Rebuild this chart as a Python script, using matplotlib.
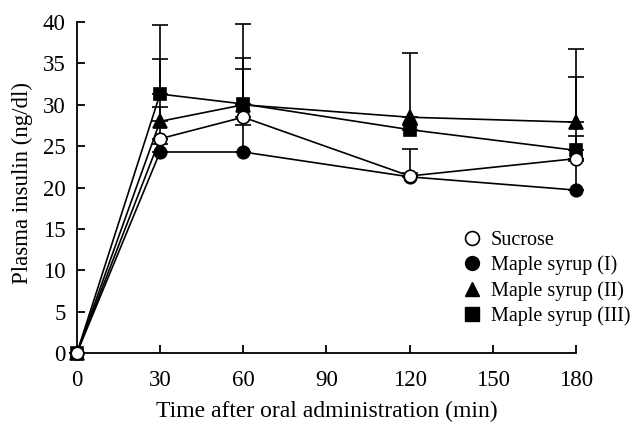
import matplotlib
matplotlib.use('Agg')
import matplotlib.pyplot as plt
from matplotlib.lines import Line2D

plt.rcParams['font.family'] = ['Liberation Serif', 'DejaVu Serif']

time = [0, 30, 60, 120, 180]

sucrose = [0, 25.9, 28.5, 21.4, 23.5]
sucrose_err = [0, 3.8, 5.8, 3.3, 9.8]
maple1 = [0, 24.3, 24.3, 21.3, 19.7]
maple1_err = [0, 1.0, 3.2, 0.5, 3.5]
maple2 = [0, 28.0, 30.0, 28.5, 27.9]
maple2_err = [0, 7.5, 9.8, 7.8, 8.8]
maple3 = [0, 31.3, 30.1, 27.0, 24.5]
maple3_err = [0, 8.3, 5.6, 0.5, 1.7]

labels = ['Sucrose', 'Maple syrup (I)', 'Maple syrup (II)', 'Maple syrup (III)']
xticks = [0, 30, 60, 90, 120, 150, 180]
yticks = [0, 5, 10, 15, 20, 25, 30, 35, 40]

fig = plt.figure(figsize=(6.35, 4.23), dpi=100)
ax = fig.add_axes([0.121, 0.165, 0.786, 0.783])

series = [
    (maple1, maple1_err, 'o', 'k'),
    (maple2, maple2_err, '^', 'k'),
    (maple3, maple3_err, 's', 'k'),
    (sucrose, sucrose_err, 'o', 'w'),
]

# error bars first (upper only), so markers sit on top
for vals, err, m, fc in series:
    ax.errorbar(time, vals, yerr=[[0] * len(err), err], fmt='none', ecolor='k',
                elinewidth=1.2, capsize=5.5, capthick=1.2, zorder=1, clip_on=False)

z = 2
for vals, err, m, fc in series:
    ax.plot(time, vals, 'k-', lw=1.2, zorder=z, clip_on=False)
    ax.plot(time, vals, linestyle='none', marker=m, ms=9 if m != '^' else 9.5,
            mfc=fc, mec='k', mew=1.2, zorder=z + 1, clip_on=False)
    z += 2

ax.set_xlim(0, 180)
ax.set_ylim(0, 40)
ax.set_xticks(xticks)
ax.set_yticks(yticks)
ax.spines['top'].set_visible(False)
ax.spines['right'].set_visible(False)
ax.spines['left'].set_linewidth(1.3)
ax.spines['bottom'].set_linewidth(1.3)
ax.tick_params(direction='in', length=6, width=1.3, labelsize=16.5)
ax.tick_params(axis='x', pad=12)
ax.tick_params(axis='y', pad=8)

ax.set_xlabel('Time after oral administration (min)', fontsize=17, labelpad=7)
ax.set_ylabel('Plasma insulin (ng/dl)', fontsize=16.5)
ax.yaxis.set_label_coords(-0.087, 0.515)

handles = [
    Line2D([], [], linestyle='none', marker='o', ms=10, mfc='w', mec='k', mew=1.2),
    Line2D([], [], linestyle='none', marker='o', ms=10, mfc='k', mec='k'),
    Line2D([], [], linestyle='none', marker='^', ms=10, mfc='k', mec='k'),
    Line2D([], [], linestyle='none', marker='s', ms=10, mfc='k', mec='k'),
]
fig.legend(handles, labels, loc='upper left', bbox_to_anchor=(453.7 / 635, 1 - 222.8 / 423),
           frameon=False, fontsize=14.5, handlelength=1.0, handletextpad=0.45,
           labelspacing=0.28, borderaxespad=0)

fig.savefig('out.png', dpi=100)
